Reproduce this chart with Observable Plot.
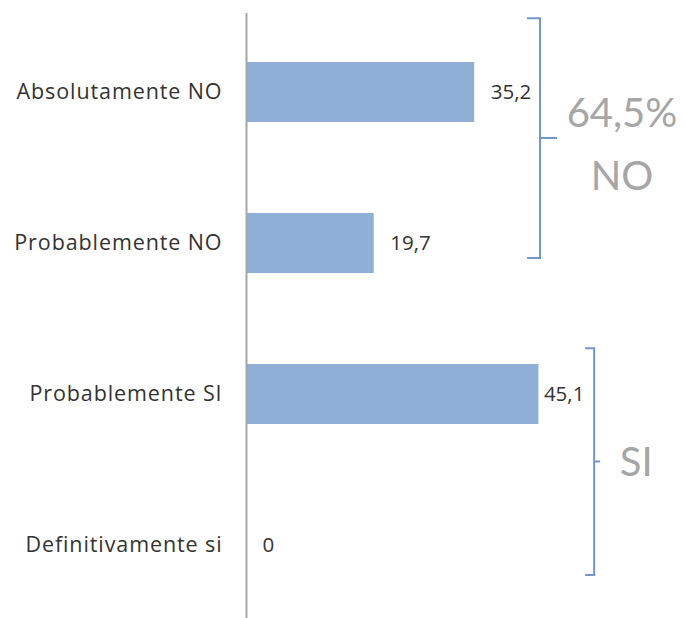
<!DOCTYPE html>
<html>
<head>
<meta charset="utf-8">
<script src="https://cdn.jsdelivr.net/npm/d3@7"></script>
<script src="https://cdn.jsdelivr.net/npm/@observablehq/plot@0.6"></script>
<style>
  html, body { margin: 0; padding: 0; background: #fff; }
  #chart svg { display: block; }
  #chart svg g[aria-label="y-axis tick label"] text { letter-spacing: 0.9px; }
</style>
</head>
<body>
<div id="chart"></div>
<script>
const categories = ["Absolutamente NO", "Probablemente NO", "Probablemente SI", "Definitivamente si"];
const values = [35.2, 19.7, 45.1, 0];
const valueLabels = ["35,2", "19,7", "45,1", "0"];
const groupNO = ["64,5%", "NO"];
const groupSI = ["SI"];

const data = categories.map((c, i) => ({category: c, value: values[i], label: valueLabels[i]}));

const FONT = "'Open Sans', Lato, sans-serif";
const BIG_FONT = "Lato, 'Open Sans', sans-serif";
const W = 685, H = 618;

const plot = Plot.plot({
  width: W,
  height: H,
  marginLeft: 246,
  marginRight: 50,
  marginTop: 13,
  marginBottom: 0,
  style: {fontFamily: FONT, fontSize: "21.5px", color: "#333", background: "#fff"},
  x: {domain: [0, 60], axis: null},
  y: {domain: categories, paddingInner: 0.6, paddingOuter: 0.2945, align: 0.532, label: null,
      tickSize: 0, tickPadding: 24},
  marks: [
    Plot.barX(data, {y: "category", x: "value", fill: "#8fafd7"}),
    Plot.ruleX([0], {stroke: "#a6a6a6", strokeWidth: 2}),
    Plot.text(data.filter(d => d.category !== "Probablemente SI"), {
      y: "category", x: "value", text: "label", textAnchor: "start", dx: 16, fill: "#333", fontSize: 20.5
    }),
    Plot.text(data.filter(d => d.category === "Probablemente SI"), {
      y: "category", x: "value", text: "label", textAnchor: "start", dx: 5, fill: "#333", fontSize: 20.5
    })
  ]
});

document.getElementById("chart").appendChild(plot);

// Brackets drawn through the plot's scales
const x = plot.scale("x");
const y = plot.scale("y");
const step = y.step, bw = y.bandwidth;
const px = v => x.apply(v);
const pyStart = c => y.apply(c);
const svg = d3.select(plot);
const g = svg.append("g").attr("fill", "none").attr("stroke", "#7396c8").attr("stroke-width", 2);

function bracket(xVal, yTop, yBot, armL, armR) {
  const X = px(xVal);
  const mid = (yTop + yBot) / 2;
  g.append("path").attr("d",
    `M${X - armL},${yTop}H${X}V${yBot}H${X - armL}M${X},${mid}H${X + armR}`);
  return {X, mid};
}

// NO bracket: spans first two categories
const noTop = pyStart(categories[0]) - 0.29 * step;
const noBot = pyStart(categories[1]) + bw - 0.1 * step;
const bNO = bracket(45.35, noTop, noBot, 13, 17);
// SI bracket: spans last two categories
const siTop = pyStart(categories[2]) - 0.105 * step;
const siBot = pyStart(categories[3]) + bw;
const bSI = bracket(53.7, siTop, siBot, 9, 6);

const t = svg.append("g").attr("fill", "#a6a6a6").attr("font-family", BIG_FONT)
  .attr("font-size", 40).attr("text-anchor", "middle");
t.append("text").attr("x", bNO.X + 82).attr("y", bNO.mid - 11).text(groupNO[0]);
t.append("text").attr("x", bNO.X + 82).attr("y", bNO.mid + 52).text(groupNO[1]);
t.append("text").attr("x", bSI.X + 42).attr("y", bSI.mid + 14).text(groupSI[0]);
</script>
</body>
</html>
